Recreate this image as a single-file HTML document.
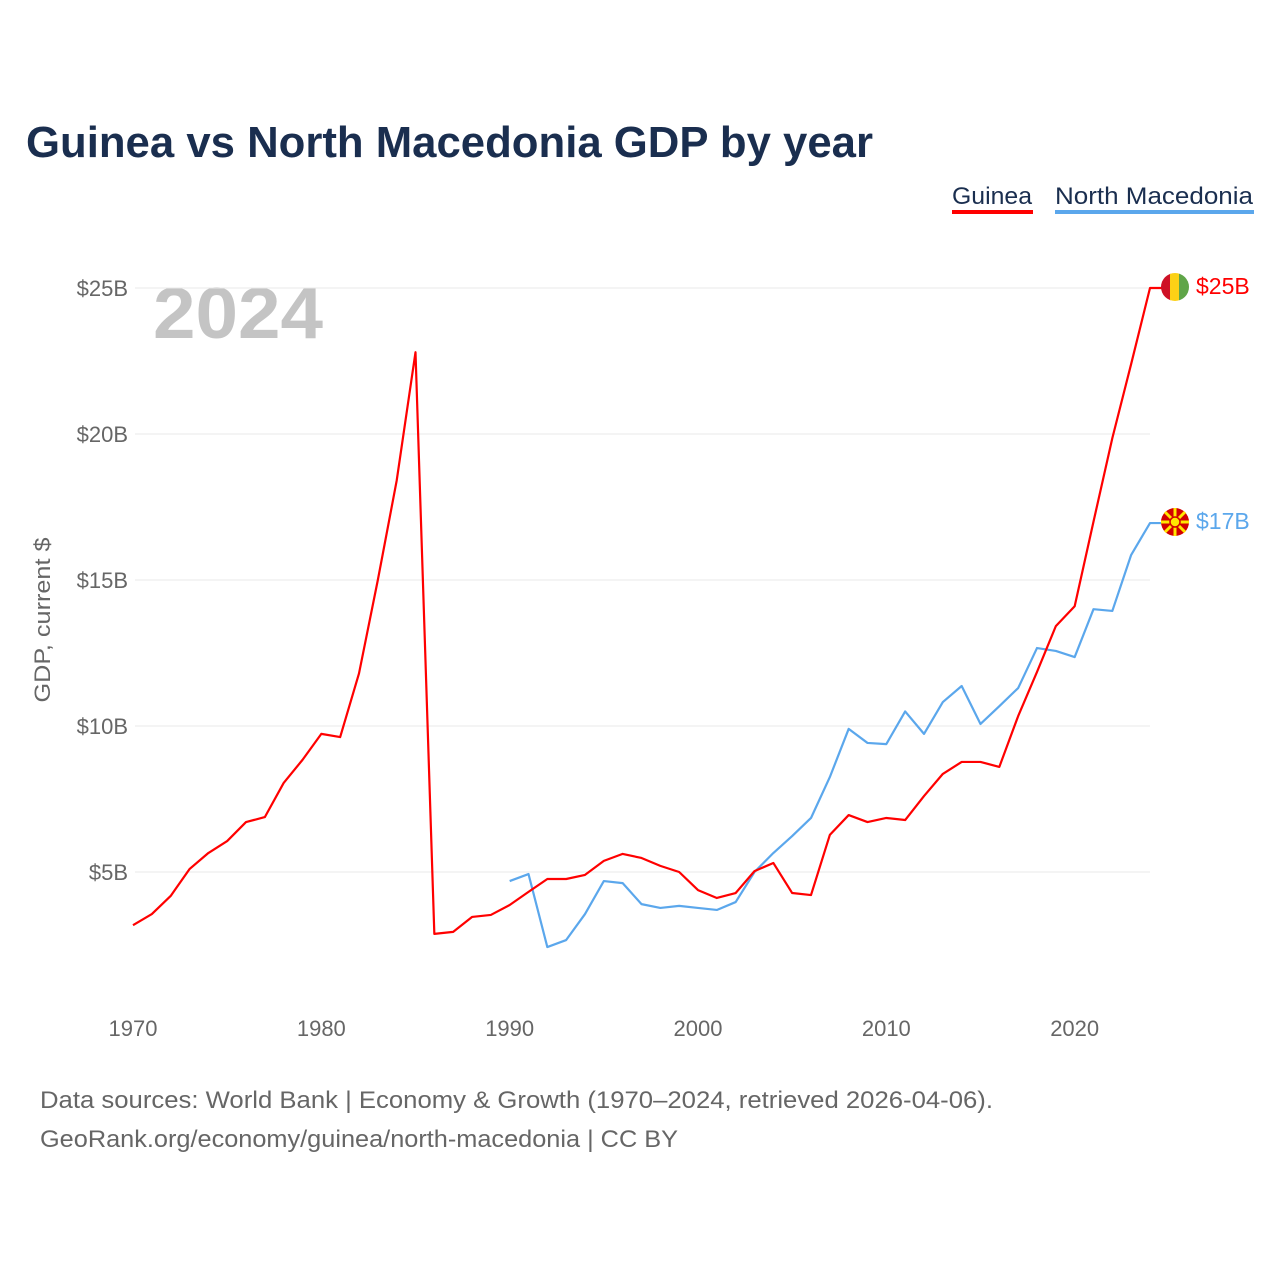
<!DOCTYPE html>
<html><head><meta charset="utf-8">
<style>
body{margin:0;background:#fff;width:1280px;height:1280px;overflow:hidden;font-family:"Liberation Sans",sans-serif;}
svg text{font-family:"Liberation Sans",sans-serif;}
</style></head>
<body>
<svg width="1280" height="1280">
<text x="26" y="157" font-size="44" font-weight="bold" fill="#1a2e4f" textLength="847" lengthAdjust="spacingAndGlyphs">Guinea vs North Macedonia GDP by year</text>
<g><text x="952" y="204" font-size="24" fill="#1a2e4f" textLength="80" lengthAdjust="spacingAndGlyphs">Guinea</text><rect x="952" y="210" width="81" height="4" fill="#ff0000"/></g>
<g><text x="1055" y="204" font-size="24" fill="#1a2e4f" textLength="198" lengthAdjust="spacingAndGlyphs">North Macedonia</text><rect x="1055" y="210" width="199" height="4" fill="#5ba7ec"/></g>
<text x="153" y="338" font-size="72" font-weight="bold" fill="#c4c4c4" textLength="170" lengthAdjust="spacingAndGlyphs">2024</text>
<g id="grid"></g><g id="yt"></g><g id="xt"></g>
<text transform="translate(50,620) rotate(-90)" text-anchor="middle" font-size="22" fill="#666" textLength="165" lengthAdjust="spacingAndGlyphs">GDP, current $</text>
<g id="series"></g>
<g><clipPath id="c1"><circle cx="1175" cy="287" r="14"/></clipPath><g clip-path="url(#c1)"><rect x="1161" y="273" width="10" height="28" fill="#ce1126"/><rect x="1170" y="273" width="10" height="28" fill="#fcd116"/><rect x="1179" y="273" width="10" height="28" fill="#5fa548"/></g></g>
<g><circle cx="1175" cy="522" r="14" fill="#d20000"/><g stroke="#ffe600" stroke-width="3"><line x1="1161" y1="522" x2="1189" y2="522"/><line x1="1175" y1="508" x2="1175" y2="536"/><line x1="1165" y1="512" x2="1185" y2="532"/><line x1="1185" y1="512" x2="1165" y2="532"/></g><circle cx="1175" cy="522" r="5" fill="#ffe600" stroke="#d20000" stroke-width="1.5"/></g>
<text x="1196" y="294" font-size="23" fill="#ff0000">$25B</text>
<text x="1196" y="529" font-size="23" fill="#5ba7ec">$17B</text>
<text x="40" y="1108" font-size="24" fill="#666" textLength="953" lengthAdjust="spacingAndGlyphs">Data sources: World Bank | Economy &amp; Growth (1970–2024, retrieved 2026-04-06).</text>
<text x="40" y="1147" font-size="24" fill="#666" textLength="638" lengthAdjust="spacingAndGlyphs">GeoRank.org/economy/guinea/north-macedonia | CC BY</text>
</svg>
<script>
const guinea=[3.18,3.56,4.18,5.10,5.65,6.06,6.71,6.88,8.05,8.84,9.73,9.62,11.8,15.0,18.4,22.8,2.88,2.95,3.46,3.53,3.87,4.32,4.76,4.76,4.90,5.38,5.62,5.48,5.21,5.0,4.38,4.11,4.28,5.03,5.31,4.28,4.21,6.27,6.95,6.71,6.85,6.78,7.6,8.36,8.77,8.77,8.6,10.34,11.85,13.42,14.1,17.0,19.86,22.4,25.0];
const guineaStart=1970;
const macedonia=[4.69,4.93,2.43,2.67,3.56,4.69,4.62,3.90,3.77,3.84,3.77,3.70,3.97,5.0,5.65,6.23,6.85,8.25,9.9,9.42,9.38,10.5,9.73,10.82,11.37,10.07,10.68,11.3,12.67,12.57,12.36,14.0,13.94,15.86,16.95];
const macedoniaStart=1990;
const yTicks=[5,10,15,20,25];
const yTickLabels=["$5B","$10B","$15B","$20B","$25B"];
const xTicks=[1970,1980,1990,2000,2010,2020];
const NS="http://www.w3.org/2000/svg";
const X=y=>133+(y-1970)*(1150-133)/54;
const Y=v=>1018-v*29.2;
function mk(t,a,p){const e=document.createElementNS(NS,t);for(const k in a)e.setAttribute(k,a[k]);p.appendChild(e);return e;}
const grid=document.getElementById('grid'),yt=document.getElementById('yt'),xt=document.getElementById('xt'),ser=document.getElementById('series');
yTicks.forEach((v,i)=>{
 const l=mk('line',{x1:135,x2:1150,y1:Y(v),y2:Y(v),stroke:'#e8e8e8','stroke-width':1},grid);
 
 
 const t=mk('text',{x:128,y:Y(v)+8,'text-anchor':'end','font-size':22,fill:'#666'},yt);
 t.textContent=yTickLabels[i];
 
 
});
xTicks.forEach(v=>{
 const t=mk('text',{x:X(v),y:1036,'text-anchor':'middle','font-size':22,fill:'#666'},xt);
 t.textContent=v;
 
 
});
function line(arr,start,color,name){
 const pts=arr.map((v,i)=>X(start+i)+','+Y(v));
 pts.push((X(start+arr.length-1)+12)+','+Y(arr[arr.length-1]));
 const p=mk('polyline',{points:pts.join(' '),fill:'none',stroke:color,'stroke-width':2.2,'stroke-linejoin':'round'},ser);
 
 
}
line(macedonia,macedoniaStart,'#5ba7ec','north-macedonia-line');
line(guinea,guineaStart,'#ff0000','guinea-line');
</script>
</body></html>
